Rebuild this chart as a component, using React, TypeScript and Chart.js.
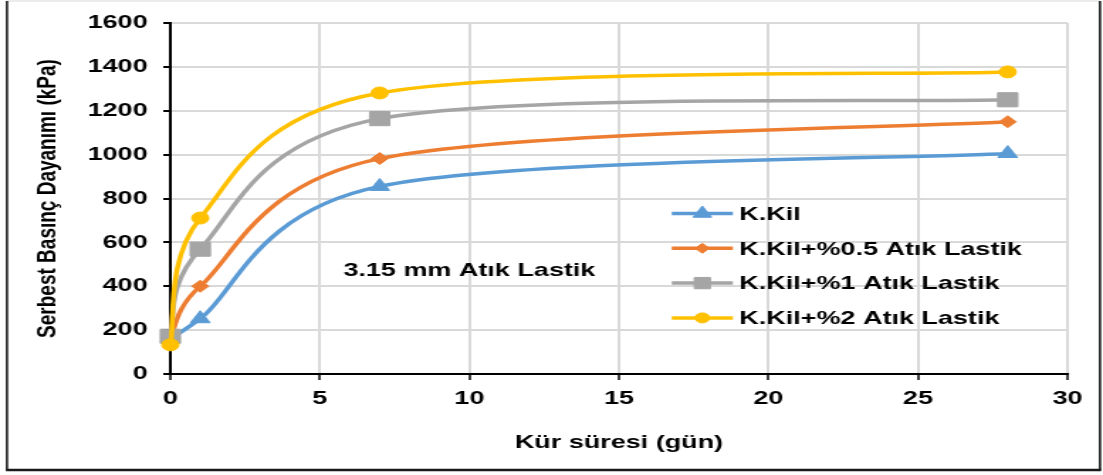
import React, { useEffect, useRef } from "react";
import { Chart, registerables } from "chart.js";
import { drawPoint } from "chart.js/helpers";

Chart.register(...registerables);

// ---- data ----
const days = [0, 1, 7, 28];
const kKil = [160, 252, 855, 1005];
const kKil05 = [165, 400, 982, 1150];
const kKil1 = [172, 569, 1164, 1250];
const kKil2 = [133, 711, 1281, 1377];
const seriesLabels = [
  "K.Kil",
  "K.Kil+%0.5 Atık Lastik",
  "K.Kil+%1 Atık Lastik",
  "K.Kil+%2 Atık Lastik",
];
const xTicks = [0, 5, 10, 15, 20, 25, 30];
const yTicks = [0, 200, 400, 600, 800, 1000, 1200, 1400, 1600];
const xTitle = "Kür süresi (gün)";
const yTitle = "Serbest Basınç Dayanımı (kPa)";
const annotationText = "3.15 mm Atık Lastik";
const annotationAt = { x: 10, y: 470 };

// ---- styles ----
const COLORS = ["#5B9BD5", "#ED7D31", "#A5A5A5", "#FFC000"];
const STYLES = ["triangle", "rectRot", "rect", "circle"];
const RADII = [8, 6, 10, 6];
const LEGEND_RADII = [7.5, 5, 8, 5];
const FONT = "'Liberation Sans', Arial, sans-serif";
const W = 777;
const H = 475;
const CSS_W = 1103;

// Excel-style smoothed-line control points (applied to Chart.js point elements)
function applyExcelSmoothing(pts: any[]) {
  const n = pts.length;
  const dist = (a: any, b: any) => Math.hypot(a.x - b.x, a.y - b.y);
  const f = 1 / 6;
  for (let i = 0; i < n - 1; i++) {
    const p0 = pts[Math.max(i - 1, 0)];
    const p1 = pts[i];
    const p2 = pts[i + 1];
    const p3 = pts[Math.min(i + 2, n - 1)];
    const d12 = dist(p1, p2);
    const d02 = dist(p0, p2);
    const d13 = dist(p1, p3);
    let f1 = f;
    let f2 = f;
    if (d02 * f >= d12 / 2 && d02 > 0) f1 = d12 / (2 * d02);
    if (d13 * f >= d12 / 2 && d13 > 0) f2 = d12 / (2 * d13);
    p1.cp2x = p1.x + f1 * (p2.x - p0.x);
    p1.cp2y = p1.y + f1 * (p2.y - p0.y);
    p2.cp1x = p2.x - f2 * (p3.x - p1.x);
    p2.cp1y = p2.y - f2 * (p3.y - p1.y);
  }
}

const smoothPlugin = {
  id: "excelSmooth",
  beforeDatasetsDraw(chart: any) {
    chart.data.datasets.forEach((_: any, i: number) => {
      const meta = chart.getDatasetMeta(i);
      if (!meta || !meta.dataset) return;
      meta.dataset.updateControlPoints(chart.chartArea, "x");
      applyExcelSmoothing(meta.data);
      meta.dataset._path = undefined;
    });
  },
};

const borderPlugin = {
  id: "frameBorder",
  afterDraw(chart: any) {
    const ctx = chart.ctx;
    ctx.save();
    ctx.strokeStyle = "#d9d9d9";
    ctx.lineWidth = 1;
    ctx.beginPath();
    ctx.moveTo(4.9, 1);
    ctx.lineTo(774.9, 1);
    ctx.stroke();
    ctx.strokeStyle = "#1a1a1a";
    ctx.lineWidth = 1.6;
    ctx.beginPath();
    ctx.moveTo(4.9, 1);
    ctx.lineTo(4.9, 470);
    ctx.moveTo(774.9, 1);
    ctx.lineTo(774.9, 470);
    ctx.stroke();
    ctx.lineWidth = 2.5;
    ctx.beginPath();
    ctx.moveTo(4.1, 470);
    ctx.lineTo(775.7, 470);
    ctx.stroke();
    ctx.restore();
  },
};

const legendPlugin = {
  id: "insideLegend",
  afterDatasetsDraw(chart: any) {
    const ctx = chart.ctx;
    const x0 = 473.2;
    const x1 = 516.3;
    const tx = 520.8;
    const y0 = 213.5;
    const dy = 34.8;
    ctx.save();
    seriesLabels.forEach((label, i) => {
      const y = y0 + i * dy;
      ctx.strokeStyle = COLORS[i];
      ctx.fillStyle = COLORS[i];
      ctx.lineWidth = 3.5;
      ctx.lineCap = "butt";
      ctx.beginPath();
      ctx.moveTo(x0, y);
      ctx.lineTo(x1, y);
      ctx.stroke();
      ctx.lineWidth = 1;
      drawPoint(
        ctx,
        { pointStyle: STYLES[i], rotation: 0, radius: LEGEND_RADII[i], borderWidth: 1 } as any,
        (x0 + x1) / 2,
        y
      );
      ctx.fillStyle = "#000";
      ctx.font = `bold 19px ${FONT}`;
      ctx.textAlign = "left";
      ctx.textBaseline = "middle";
      ctx.fillText(label, tx, y + 1);
    });
    ctx.restore();
  },
};

const annotationPlugin = {
  id: "annotationText",
  afterDatasetsDraw(chart: any) {
    const ctx = chart.ctx;
    const x = chart.scales.x.getPixelForValue(annotationAt.x);
    const y = chart.scales.y.getPixelForValue(annotationAt.y);
    ctx.save();
    ctx.fillStyle = "#000";
    ctx.font = `bold 19px ${FONT}`;
    ctx.textAlign = "center";
    ctx.textBaseline = "middle";
    ctx.fillText(annotationText, x, y);
    ctx.restore();
  },
};

export default function App() {
  const ref = useRef<HTMLCanvasElement | null>(null);

  useEffect(() => {
    if (!ref.current) return;
    const seriesValues = [kKil, kKil05, kKil1, kKil2];
    const datasets = seriesValues.map((vals, i) => ({
      label: seriesLabels[i],
      data: days.map((d, j) => ({ x: d, y: vals[j] })),
      borderColor: COLORS[i],
      backgroundColor: COLORS[i],
      borderWidth: 3.5,
      pointStyle: STYLES[i],
      pointRadius: RADII[i],
      pointBorderWidth: 1,
      pointBackgroundColor: COLORS[i],
      pointBorderColor: COLORS[i],
      tension: 0.4,
      order: 3 - i,
      clip: false,
    }));

    const chart = new Chart(ref.current, {
      type: "line",
      data: { datasets },
      plugins: [smoothPlugin, legendPlugin, annotationPlugin, borderPlugin],
      options: {
        animation: false,
        responsive: false,
        devicePixelRatio: 1,
        layout: { padding: { left: 0, right: 25, top: 23, bottom: 0 } },
        plugins: { legend: { display: false }, tooltip: { enabled: false } },
        scales: {
          x: {
            type: "linear",
            min: 0,
            max: 30,
            afterBuildTicks: (s: any) => {
              s.ticks = xTicks.map((v) => ({ value: v }));
            },
            afterFit: (s: any) => {
              s.height = 101;
            },
            grid: {
              color: "#d9d9d9",
              lineWidth: 2,
              tickColor: "#000",
              tickLength: 6,
              tickWidth: 1.5,
            },
            border: { display: true, color: "#000", width: 2 },
            ticks: {
              color: "#000",
              padding: 7,
              font: { family: FONT, size: 19, weight: "bold" },
              callback: (v: any) => String(v),
            },
            title: {
              display: true,
              text: xTitle,
              color: "#000",
              font: { family: FONT, size: 19, weight: "bold" },
              padding: { top: 0, bottom: 21 },
            },
          },
          y: {
            type: "linear",
            min: 0,
            max: 1600,
            afterBuildTicks: (s: any) => {
              s.ticks = yTicks.map((v) => ({ value: v }));
            },
            afterFit: (s: any) => {
              s.width = 120;
            },
            grid: {
              color: "#d9d9d9",
              lineWidth: 2,
              tickColor: "#000",
              tickLength: 5,
              tickWidth: 2,
            },
            border: { display: true, color: "#000", width: 2 },
            ticks: {
              color: "#000",
              padding: 11,
              font: { family: FONT, size: 19, weight: "bold" },
              callback: (v: any) => String(v),
            },
            title: {
              display: true,
              text: yTitle,
              color: "#000",
              font: { family: FONT, size: 19, weight: "bold" },
              padding: { top: 22, bottom: 0 },
            },
          },
        },
      } as any,
    });
    return () => chart.destroy();
  }, []);

  return (
    <div style={{ position: "absolute", left: 0, top: 0, width: CSS_W, height: H, background: "#fff" }}>
      <canvas
        ref={ref}
        width={W}
        height={H}
        style={{ width: CSS_W + "px", height: H + "px", display: "block" }}
      />
    </div>
  );
}
